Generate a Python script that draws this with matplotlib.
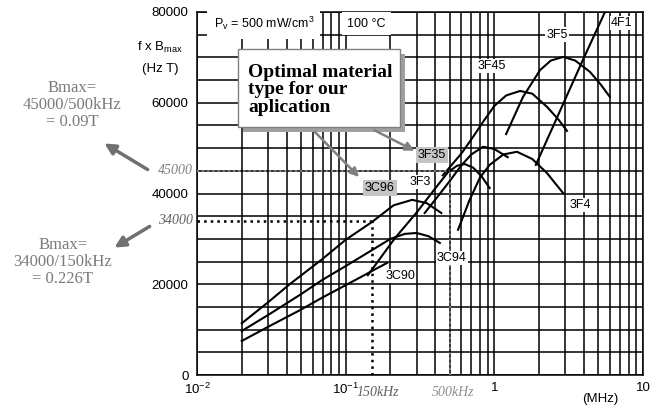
import numpy as np
import matplotlib
matplotlib.use('Agg')
import matplotlib.pyplot as plt
from matplotlib.ticker import FixedLocator, NullFormatter
from matplotlib.patches import Rectangle, FancyArrowPatch

plt.rcParams['font.family'] = ['Liberation Sans', 'DejaVu Sans']
plt.rcParams['mathtext.fontset'] = 'custom'
plt.rcParams['mathtext.rm'] = 'Liberation Sans'
plt.rcParams['mathtext.it'] = 'Liberation Sans:italic'

# frequency (MHz) and f x Bmax (Hz T)
f_3c90 = [0.02, 0.03, 0.05, 0.07, 0.10, 0.13, 0.16, 0.19]
b_3c90 = [7500, 10600, 14400, 17100, 19800, 21800, 23400, 24700]

f_3c94 = [0.02, 0.03, 0.05, 0.07, 0.10, 0.15, 0.20, 0.25, 0.30, 0.36, 0.43]
b_3c94 = [9700, 13200, 17800, 21000, 24000, 27500, 30000, 31100, 31300, 30600, 29100]

f_3c96 = [0.02, 0.03, 0.042, 0.07, 0.10, 0.15, 0.21, 0.28, 0.35, 0.44]
b_3c96 = [11400, 16000, 20000, 25600, 29800, 33700, 37400, 38600, 37900, 35700]

f_3f3 = [0.141, 0.215, 0.30, 0.40, 0.488, 0.56, 0.63, 0.72, 0.82, 0.93]
b_3f3 = [22000, 30200, 35800, 41100, 44700, 46100, 46500, 45700, 43800, 41200]

f_3f35 = [0.34, 0.42, 0.50, 0.60, 0.70, 0.84, 1.0, 1.23]
b_3f35 = [35700, 39500, 42700, 46200, 48600, 50300, 49800, 48000]

f_3f4 = [0.57, 0.68, 0.80, 0.93, 1.15, 1.42, 1.8, 2.26, 2.9]
b_3f4 = [32000, 38500, 43500, 46300, 48600, 49200, 47600, 44500, 40100]

f_3f45 = [0.45, 0.60, 0.72, 0.84, 1.0, 1.2, 1.49, 1.8, 2.26, 2.7, 3.08]
b_3f45 = [44000, 48800, 52500, 55800, 59300, 61600, 62600, 62000, 59100, 56300, 53800]

f_3f5 = [1.2, 1.56, 2.03, 2.4, 2.9, 3.5, 4.4, 5.2, 5.98]
b_3f5 = [53100, 61300, 67200, 69300, 70100, 69300, 66800, 64000, 61300]

f_4f1 = [1.9, 3.95, 5.55]
b_4f1 = [46300, 69500, 80000]

curves = [f_3c90, f_3c94, f_3c96, f_3f3, f_3f35, f_3f4, f_3f45, f_3f5, f_4f1]
values = [b_3c90, b_3c94, b_3c96, b_3f3, b_3f35, b_3f4, b_3f45, b_3f5, b_4f1]

names = ['3C90', '3C94', '3C96', '3F3', '3F35', '3F4', '3F45', '3F5', '4F1']
name_f = [0.232, 0.519, 0.170, 0.316, 0.38, 3.77, 0.96, 2.64, 7.2]
name_b = [21800, 25800, 41200, 42500, 48500, 37500, 68100, 75000, 77600]
marked = ['3C96', '3F35']

f_lo, b_lo = 0.15, 34000
f_hi, b_hi = 0.5, 45000

W, H = 654, 407


def fp(px, py):
    return (px / W, 1 - py / H)


fig = plt.figure(figsize=(6.54, 4.07), dpi=100)
ax = fig.add_axes([197 / W, 32 / H, 446 / W, 363 / H])
ax.set_xscale('log')
ax.set_xlim(0.01, 10)
ax.set_ylim(0, 80000)
ax.set_axisbelow(True)

ax.xaxis.set_major_locator(FixedLocator([0.01, 0.1, 1, 10]))
ax.set_xticklabels([r'$10^{-2}$', r'$10^{-1}$', '1', '10'])
minor_x = [m * d for d in (0.01, 0.1, 1) for m in range(2, 10)]
ax.xaxis.set_minor_locator(FixedLocator(minor_x))
ax.xaxis.set_minor_formatter(NullFormatter())
ax.yaxis.set_major_locator(FixedLocator([0, 20000, 40000, 60000, 80000]))
ax.yaxis.set_minor_locator(FixedLocator(np.arange(0, 80001, 5000)))
ax.tick_params(which='both', length=0, labelsize=9.5)
ax.tick_params(axis='x', pad=5)
ax.tick_params(axis='y', pad=6)
ax.grid(which='both', color='black', lw=1.1)
for s in ax.spines.values():
    s.set_color('black')
    s.set_linewidth(1.1)

for f, b in zip(curves, values):
    ax.plot(f, b, color='black', lw=1.5, zorder=3)

for n, x, y in zip(names, name_f, name_b):
    if n in marked:
        bb = dict(boxstyle='square,pad=0.15', fc='#c4c4c4', ec='none')
    else:
        bb = dict(boxstyle='square,pad=0.1', fc='white', ec='none')
    ax.text(x, y, n, fontsize=9, ha='center', va='center', bbox=bb, zorder=5)

# dotted guide lines
ax.plot([0.01, f_hi], [b_hi, b_hi], ls=':', color='#808080', lw=1.4, zorder=4)
ax.plot([f_hi, f_hi], [0, b_hi], ls=':', color='#808080', lw=1.4, zorder=4)
ax.plot([0.01, f_lo], [b_lo, b_lo], ls=':', color='black', lw=1.8, zorder=4)
ax.plot([f_lo, f_lo], [0, b_lo], ls=':', color='black', lw=1.8, zorder=4)

serif = ['Liberation Serif', 'DejaVu Serif']
tr = ax.get_yaxis_transform()
ax.text(-0.01, b_hi, '45000', transform=tr, ha='right', va='center',
        family=serif, style='italic', fontsize=10, color='#808080')
ax.text(-0.01, b_lo, '34000', transform=tr, ha='right', va='center',
        family=serif, style='italic', fontsize=10, color='#606060')
trx = ax.get_xaxis_transform()
ax.text(f_lo * 1.1, -0.03, '150kHz', transform=trx, ha='center', va='top',
        family=serif, style='italic', fontsize=10, color='#606060')
ax.text(f_hi * 1.05, -0.03, '500kHz', transform=trx, ha='center', va='top',
        family=serif, style='italic', fontsize=10, color='#909090')

# header
ax.text(0.15, 0.968, r'P$_\mathrm{v}$ = 500 mW/cm$^3$', transform=ax.transAxes,
        ha='center', va='center', fontsize=9,
        bbox=dict(boxstyle='square,pad=0.5', fc='white', ec='none'), zorder=5)
ax.text(0.38, 0.968, '100 °C', transform=ax.transAxes, ha='center', va='center',
        fontsize=9, bbox=dict(boxstyle='square,pad=0.45', fc='white', ec='none'), zorder=5)

fig.text(*fp(160, 47), r'f x B$_\mathrm{max}$', ha='center', va='center', fontsize=9.5)
fig.text(*fp(160, 69), '(Hz T)', ha='center', va='center', fontsize=9.5)
fig.text(*fp(600, 399), '(MHz)', ha='center', va='center', fontsize=9.5)

# left notes
fig.text(*fp(72, 105), 'Bmax=\n45000/500kHz\n= 0.09T', ha='center', va='center',
         family=serif, fontsize=12, color='#7a7a7a', linespacing=1.1)
fig.text(*fp(63, 262), 'Bmax=\n34000/150kHz\n= 0.226T', ha='center', va='center',
         family=serif, fontsize=12, color='#7a7a7a', linespacing=1.1)
for a, b in [((150, 171), (102, 142)), ((152, 225), (112, 249))]:
    fig.add_artist(FancyArrowPatch(fp(*a), fp(*b), transform=fig.transFigure,
                                   arrowstyle='-|>', mutation_scale=16, lw=2.5,
                                   color='#707070', zorder=6))

# callout box
x0, y0 = fp(238, 127)
bw, bh = 162 / W, 78 / H
fig.add_artist(Rectangle((x0 + 5 / W, y0 - 5 / H), bw, bh, transform=fig.transFigure,
                         fc='#a0a0a0', ec='none', zorder=6))
fig.add_artist(Rectangle((x0, y0), bw, bh, transform=fig.transFigure,
                         fc='white', ec='#808080', lw=1.0, zorder=7))
fig.text(*fp(248, 90), 'Optimal material\ntype for our\naplication', ha='left', va='center',
         family=serif, fontweight='bold', fontsize=14, linespacing=1.05, zorder=8)
for a, b in [((313, 130), (361, 179)), ((372, 129), (417, 152))]:
    fig.add_artist(FancyArrowPatch(fp(*a), fp(*b), transform=fig.transFigure,
                                   arrowstyle='-|>', mutation_scale=13, lw=1.8,
                                   color='#808080', zorder=6))

fig.savefig('out.png', dpi=100)
